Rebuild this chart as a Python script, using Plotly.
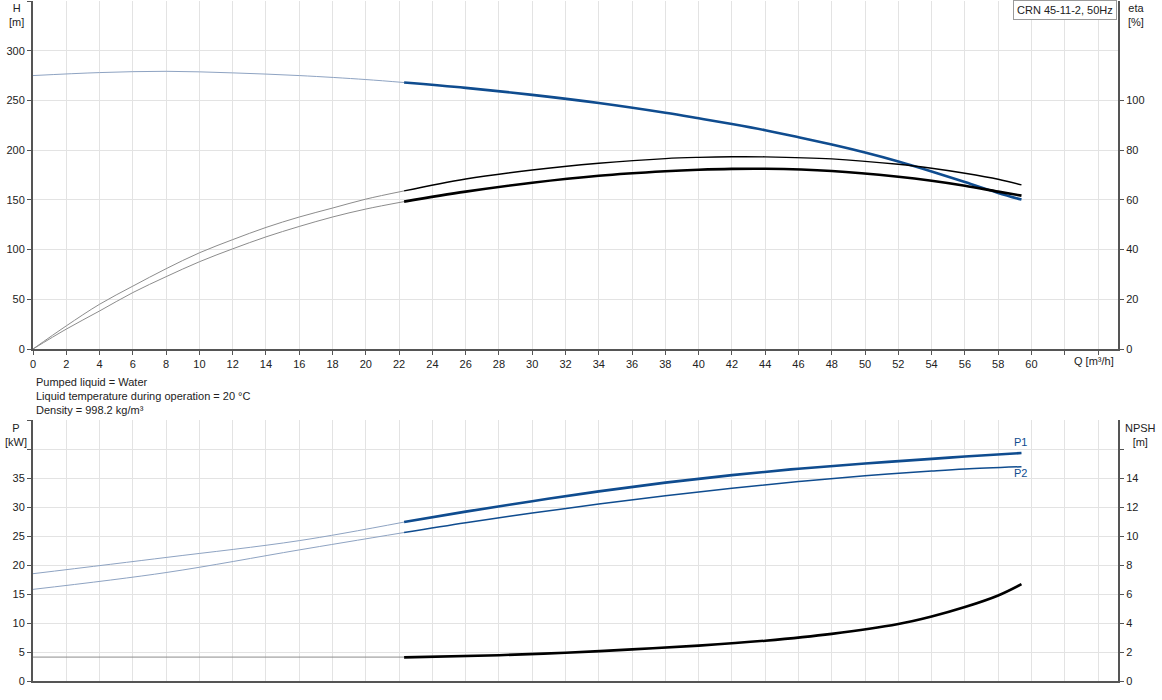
import plotly.graph_objects as go

# ---------------- data ----------------
q_h_thin = [0, 4, 8, 12, 16, 20, 22.3]
h_thin = [275, 278, 279.3, 277.7, 275, 271, 268]
q_h = [22.3, 26, 30, 34, 38, 40, 42, 44, 46, 48, 50, 52, 54, 56, 58, 59.4]
h_main = [268, 262.6, 255.6, 247.4, 237.6, 232, 226.2, 220, 213, 205.6, 197.6, 188.6, 178.6, 168, 157, 150.3]

q_eta_thin = [0, 2, 4, 6, 8, 10, 12, 14, 16, 18, 20, 22.3]
eta1_thin = [0, 9.3, 18, 25.3, 32.3, 38.7, 44, 48.9, 53.1, 56.7, 60.3, 63.6]
eta2_thin = [0, 8, 15.3, 22.7, 29.1, 35.1, 40.3, 45.1, 49.3, 53.1, 56.3, 59.3]
q_eta = [22.3, 26, 30, 34, 38, 40, 42, 44, 48, 52, 54, 56, 58, 59.4]
eta1_main = [63.6, 68.4, 72, 74.7, 76.6, 77.1, 77.35, 77.3, 76.5, 74.3, 72.7, 70.7, 68.3, 66]
eta2_main = [59.3, 63.3, 66.9, 69.7, 71.5, 72.1, 72.45, 72.5, 71.6, 69.3, 67.7, 65.7, 63.3, 61.7]

q_p_thin = [0, 8, 16, 22.3]
p1_thin = [18.5, 21.3, 24.2, 27.4]
p2_thin = [15.8, 18.7, 22.6, 25.6]
q_p = [22.3, 26, 30, 34, 38, 42, 46, 50, 54, 56, 59.4]
p1_main = [27.4, 29.2, 31.0, 32.7, 34.2, 35.5, 36.6, 37.5, 38.3, 38.7, 39.3]
p2_main = [25.6, 27.3, 28.95, 30.5, 31.95, 33.25, 34.4, 35.4, 36.2, 36.55, 36.95]

q_npsh_thin = [0, 22.3]
npsh_thin = [1.65, 1.65]
q_npsh = [22.3, 28, 32, 36, 40, 44, 48, 52, 54, 56, 58, 59.4]
npsh_main = [1.63, 1.78, 1.95, 2.18, 2.44, 2.78, 3.25, 3.93, 4.45, 5.1, 5.9, 6.68]

q_ticks = list(range(0, 66, 2))
q_ticktext = [str(v) if v <= 60 else "" for v in q_ticks]
h_ticks = list(range(0, 351, 50))
h_ticktext = [str(v) if v <= 300 else "" for v in h_ticks]
eta_ticks = list(range(0, 101, 20))
p_ticks = list(range(0, 46, 5))
p_ticktext = [str(v) if v <= 35 else "" for v in p_ticks]
npsh_ticks = list(range(0, 17, 2))
npsh_ticktext = [str(v) if v <= 14 else "" for v in npsh_ticks]

info_lines = ["Pumped liquid = Water",
              "Liquid temperature during operation = 20 °C",
              "Density = 998.2 kg/m³"]

# ---------------- styling ----------------
W, H = 1162, 700
ML, MR, MT, MB = 33, 44, 1, 19
PW, PH = W - ML - MR, H - MT - MB
BLUE = "#0f4c8f"
BLUE_THIN = "#8ea3c2"
GRAY_THIN = "#8c8c8c"
AX = "#555555"
GRID = "#e3e3e3"
FONT = "Liberation Sans, Arial, sans-serif"


def px(x):
    return (x - ML) / PW


def py(y):
    return (H - MB - y) / PH


top_dom = [py(349), 1]
bot_dom = [0, py(420)]

fig = go.Figure()


def add(x, y, color, width, xa="x", ya="y"):
    fig.add_trace(go.Scatter(x=x, y=y, mode="lines", xaxis=xa, yaxis=ya,
                             line=dict(color=color, width=width, shape="spline", smoothing=1.0),
                             hoverinfo="skip", showlegend=False))


# top chart
add(q_h_thin, h_thin, BLUE_THIN, 1)
add(q_h, h_main, BLUE, 2.6)
add(q_eta_thin, eta1_thin, GRAY_THIN, 1, ya="y2")
add(q_eta_thin, eta2_thin, GRAY_THIN, 1, ya="y2")
add(q_eta, eta1_main, "#000000", 1.4, ya="y2")
add(q_eta, eta2_main, "#000000", 2.6, ya="y2")

# bottom chart
add(q_p_thin, p1_thin, BLUE_THIN, 1, xa="x2", ya="y3")
add(q_p_thin, p2_thin, BLUE_THIN, 1, xa="x2", ya="y3")
add(q_p, p1_main, BLUE, 2.6, xa="x2", ya="y3")
add(q_p, p2_main, BLUE, 1.5, xa="x2", ya="y3")
add(q_npsh_thin, npsh_thin, GRAY_THIN, 1, xa="x2", ya="y4")
add(q_npsh, npsh_main, "#000000", 2.6, xa="x2", ya="y4")

tickfont = dict(family=FONT, size=11, color="#222222")
common_x = dict(range=[0, 65.2], tickvals=q_ticks, showgrid=True, gridcolor=GRID, gridwidth=1,
                zeroline=False, showline=True, linecolor=AX, linewidth=2, tickfont=tickfont,
                ticks="outside", ticklen=4, tickcolor=AX, fixedrange=True)

fig.update_layout(
    width=W, height=H,
    margin=dict(l=ML, r=MR, t=MT, b=MB),
    paper_bgcolor="white", plot_bgcolor="white",
    font=dict(family=FONT, size=11, color="#222222"),
    xaxis=dict(common_x, anchor="y", domain=[0, 1], ticktext=q_ticktext),
    yaxis=dict(domain=top_dom, range=[0, 350], tickvals=h_ticks, ticktext=h_ticktext,
               showgrid=True, gridcolor=GRID, zeroline=False, showline=True, linecolor=AX,
               linewidth=2, ticks="outside", ticklen=4, tickcolor=AX, tickfont=tickfont),
    yaxis2=dict(overlaying="y", side="right", range=[0, 140], tickvals=eta_ticks,
                showgrid=False, zeroline=False, showline=True, linecolor=AX, linewidth=2,
                ticks="outside", ticklen=4, tickcolor=AX, tickfont=tickfont, anchor="x"),
    xaxis2=dict(common_x, anchor="y3", domain=[0, 1], showticklabels=False, ticks=""),
    yaxis3=dict(domain=bot_dom, range=[0, 45], tickvals=p_ticks, ticktext=p_ticktext,
                showgrid=True, gridcolor=GRID, zeroline=False, showline=True, linecolor=AX,
                linewidth=2, ticks="outside", ticklen=4, tickcolor=AX, tickfont=tickfont,
                anchor="x2"),
    yaxis4=dict(overlaying="y3", side="right", range=[0, 18], tickvals=npsh_ticks,
                ticktext=npsh_ticktext, showgrid=False, zeroline=False, showline=True,
                linecolor=AX, linewidth=2, ticks="outside", ticklen=4, tickcolor=AX,
                tickfont=tickfont, anchor="x2"),
)

ann = []


def note(text, x, y, xanchor="left", yanchor="middle", **kw):
    ann.append(dict(text=text, x=px(x), y=py(y), xref="paper", yref="paper",
                    xanchor=xanchor, yanchor=yanchor, showarrow=False,
                    font=dict(family=FONT, size=11, color=kw.pop("color", "#222222")), **kw))


note("H<br>[m]", 16, 0, xanchor="center", yanchor="top")
note("eta<br>[%]", 1136, 0, xanchor="center", yanchor="top")
note("Q [m³/h]", 1094, 361, xanchor="center")
note("P<br>[kW]", 16, 420, xanchor="center", yanchor="top")
note("NPSH<br>[m]", 1140, 420, xanchor="center", yanchor="top")
for i, line in enumerate(info_lines):
    note(line, 34, 382 + 14 * i)
note("P1", 1020, 442, xanchor="center", color=BLUE)
note("P2", 1020, 473, xanchor="center", color=BLUE)
note("CRN 45-11-2, 50Hz", 1117, 0, xanchor="right", yanchor="top",
     bordercolor="#9a9a9a", borderwidth=1, borderpad=3, bgcolor="white")

fig.update_layout(annotations=ann)

fig.write_html("out.html")
